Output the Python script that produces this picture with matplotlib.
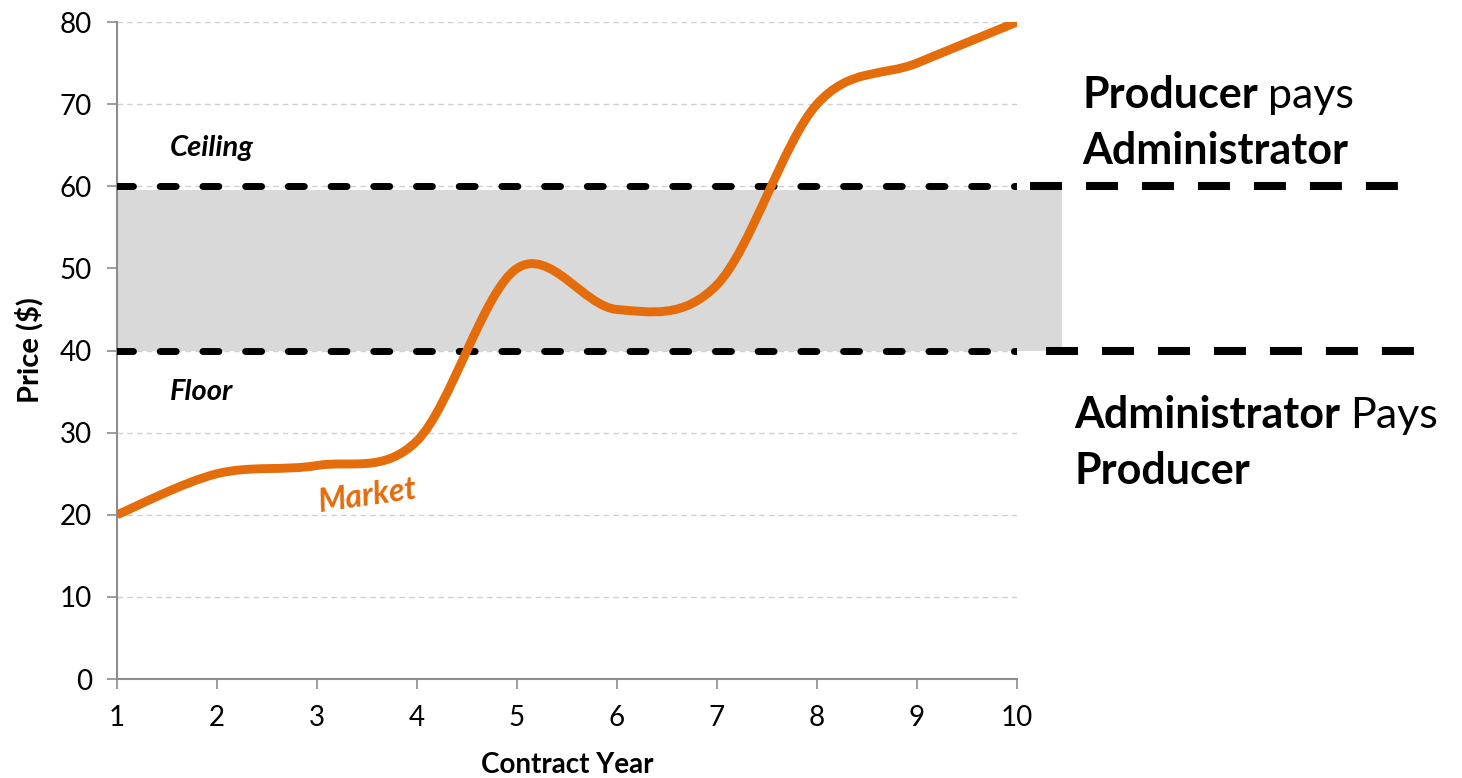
import matplotlib
matplotlib.use("Agg")
from matplotlib import pyplot as plt
from matplotlib.path import Path
from matplotlib.patches import PathPatch
import numpy as np

plt.rcParams['font.family'] = ['Lato', 'DejaVu Sans']

years = [1, 2, 3, 4, 5, 6, 7, 8, 9, 10]
market = [20, 25, 26, 29, 50, 45, 48, 70, 75, 80]
floor_price = 40
ceiling_price = 60
y_ticks = [0, 10, 20, 30, 40, 50, 60, 70, 80]

ORANGE = '#E46C0A'
GREY = '#8c8c8c'


def smooth_path(xs, ys):
    # Excel style smoothed line: cubic bezier with 1/6 tangents
    pts = np.column_stack([xs, ys]).astype(float)
    n = len(pts)
    verts = [pts[0]]
    codes = [Path.MOVETO]
    for i in range(n - 1):
        p0 = pts[i - 1] if i > 0 else pts[i]
        p1 = pts[i]
        p2 = pts[i + 1]
        p3 = pts[i + 2] if i + 2 < n else pts[i + 1]
        c1 = p1 + (p2 - p0) / 6.0
        c2 = p2 - (p3 - p1) / 6.0
        verts += [c1, c2, p2]
        codes += [Path.CURVE4] * 3
    return Path(verts, codes)


fig = plt.figure(figsize=(14.62, 7.78), dpi=100)
ax = fig.add_axes([0.080, 0.1272, 0.6156, 0.8445])

ax.set_xlim(1, 10)
ax.set_ylim(0, 80)
ax.set_yticks(y_ticks)
ax.set_xticks(years)

for y in y_ticks[1:]:
    ax.axhline(y, color='#d0d0d0', lw=1, ls=(0, (4, 3)), zorder=0)

# band between floor and ceiling, runs a bit past the axes
ax.fill_between([1, 10.45], floor_price, ceiling_price - 0.4, color='#d9d9d9',
                lw=0, zorder=1, clip_on=False)

# dashed floor / ceiling inside the plot
for level in [ceiling_price, floor_price]:
    ax.plot([1, 10], [level, level], color='black', lw=5,
            ls=(0, (2.3, 3.85)), dash_capstyle='round', zorder=3)

# heavy dashes outside the plot
ax.plot([10.13, 13.81], [ceiling_price + 0.05, ceiling_price + 0.05], color='black',
        lw=5.8, ls=(0, (3.97, 2.98)), dash_capstyle='butt', clip_on=False, zorder=3)
ax.plot([10.29, 13.97], [floor_price - 0.05, floor_price - 0.05], color='black',
        lw=5.8, ls=(0, (3.97, 2.98)), dash_capstyle='butt', clip_on=False, zorder=3)

patch = PathPatch(smooth_path(years, market), facecolor='none', edgecolor=ORANGE,
                  lw=6.4, capstyle='butt', zorder=4)
ax.add_patch(patch)

ax.text(1.53, 64.7, 'Ceiling', fontsize=21, fontweight='bold', style='italic',
        va='center', ha='left')
ax.text(1.53, 35.0, 'Floor', fontsize=21, fontweight='bold', style='italic',
        va='center', ha='left')
ax.text(3.51, 22.3, 'Market', fontsize=23, fontweight='bold', style='italic',
        color=ORANGE, va='center', ha='center', rotation=8)

for side in ['top', 'right']:
    ax.spines[side].set_visible(False)
for side in ['left', 'bottom']:
    ax.spines[side].set_color(GREY)
    ax.spines[side].set_linewidth(1.5)
ax.tick_params(axis='both', colors=GREY, length=7, width=1.2, labelsize=20,
               labelcolor='black')
ax.tick_params(axis='x', pad=12)
ax.tick_params(axis='y', pad=11)

ax.set_xlabel('Contract Year', fontsize=20, fontweight='bold', labelpad=15)
ax.set_ylabel('Price ($)', fontsize=21, fontweight='bold', labelpad=12)

# right-hand annotations, bold + regular words
fig.canvas.draw()
r = fig.canvas.get_renderer()


def two_part(x, y, bold_word, plain_word):
    t1 = fig.text(x, y, bold_word, fontsize=31, fontweight='bold', va='baseline',
                  ha='left')
    bb = t1.get_window_extent(renderer=r)
    x2 = (bb.x1 + 10) / fig.bbox.width
    fig.text(x2, y, plain_word, fontsize=31, va='baseline', ha='left')


two_part(1082 / 1462, 1 - 108 / 778, 'Producer', 'pays')
fig.text(1082 / 1462, 1 - 164 / 778, 'Administrator', fontsize=31, fontweight='bold',
         va='baseline', ha='left')
two_part(1074 / 1462, 1 - 428 / 778, 'Administrator', 'Pays')
fig.text(1074 / 1462, 1 - 484 / 778, 'Producer', fontsize=31, fontweight='bold',
         va='baseline', ha='left')

fig.savefig('out.png', dpi=100)
